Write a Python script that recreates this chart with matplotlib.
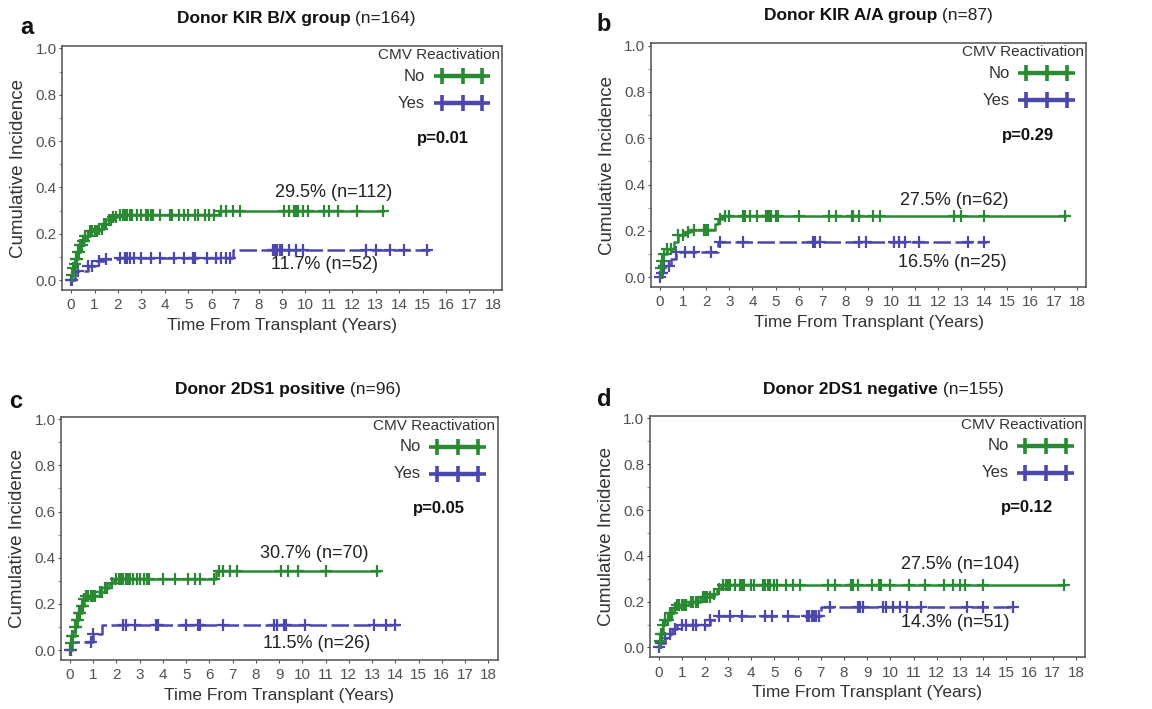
import numpy as np
import matplotlib
matplotlib.use('Agg')
import matplotlib.pyplot as plt

plt.rcParams['font.family'] = ['Liberation Sans', 'DejaVu Sans']

GREEN = '#2a8a34'
BLUE = '#4c47ad'
GREY = '#505050'

# ---- data ----
# panel a: Donor KIR B/X group
a_no_t = [0, 0.05, 0.1, 0.15, 0.2, 0.3, 0.4, 0.5, 0.6, 0.8, 1.2, 1.4, 1.6, 1.8, 1.95, 6.3]
a_no_y = [0, 0.02, 0.05, 0.07, 0.09, 0.12, 0.15, 0.17, 0.19, 0.21, 0.22, 0.24, 0.26, 0.27, 0.28, 0.30]
a_no_end = 13.3
a_no_cens = [0.05, 0.1, 0.15, 0.2, 0.25, 0.3, 0.35, 0.4, 0.45, 0.5, 0.55, 0.6, 0.7, 0.8, 0.9, 1.0, 1.1,
             1.2, 1.3, 1.4, 1.5, 1.6, 1.7, 1.8, 1.9, 2.1, 2.2, 2.3, 2.4, 2.5, 2.6, 2.8, 3.0, 3.2, 3.3, 3.4,
             3.5, 3.8, 4.2, 4.3, 4.6, 4.8, 5.0, 5.3, 5.4, 5.7, 5.9, 6.1, 6.4, 6.6, 6.9, 7.2, 9.1, 9.3,
             9.5, 9.6, 9.7, 9.9, 10.1, 10.8, 11.0, 11.4, 12.2, 13.3]
a_yes_t = [0, 0.15, 0.7, 1.0, 1.4, 2.0, 6.9]
a_yes_y = [0, 0.04, 0.06, 0.08, 0.09, 0.095, 0.13]
a_yes_end = 15.3
a_yes_cens = [0.0, 0.05, 0.3, 0.7, 0.9, 1.2, 1.5, 2.1, 2.3, 2.4, 2.5, 2.7, 3.0, 3.4, 3.8, 4.4, 4.8,
              5.2, 5.3, 5.8, 6.2, 6.4, 6.6, 6.8, 8.6, 8.7, 8.8, 8.9, 9.0, 9.3, 9.6, 9.9, 12.6, 13.0,
              13.6, 14.2, 15.2]

# panel b: Donor KIR A/A group
b_no_t = [0, 0.05, 0.1, 0.15, 0.3, 0.6, 0.8, 1.1, 1.3, 2.4, 2.5, 2.7]
b_no_y = [0, 0.04, 0.07, 0.10, 0.12, 0.15, 0.18, 0.195, 0.205, 0.23, 0.25, 0.264]
b_no_end = 17.5
b_no_cens = [0.05, 0.1, 0.2, 0.3, 0.5, 0.8, 1.0, 1.2, 1.5, 1.9, 2.0, 2.1, 2.6, 2.8, 3.0, 3.6, 3.7,
             3.9, 4.2, 4.6, 4.65, 4.7, 4.8, 5.0, 5.1, 6.0, 7.3, 7.6, 8.3, 8.35, 8.6, 9.2, 9.5, 12.7,
             13.0, 14.0, 17.5]
b_yes_t = [0, 0.1, 0.15, 0.5, 0.7, 2.5]
b_yes_y = [0, 0.02, 0.05, 0.08, 0.108, 0.152]
b_yes_end = 14.1
b_yes_cens = [0.0, 0.1, 0.2, 0.4, 0.7, 1.1, 1.5, 2.2, 2.6, 3.6, 6.6, 6.7, 6.9, 8.6, 8.9, 10.1,
              10.3, 10.6, 11.2, 13.3, 14.0]

# panel c: Donor 2DS1 positive
c_no_t = [0, 0.05, 0.1, 0.2, 0.3, 0.4, 0.5, 0.6, 0.7, 1.3, 1.5, 1.7, 1.9, 6.3]
c_no_y = [0, 0.03, 0.06, 0.10, 0.13, 0.16, 0.19, 0.22, 0.236, 0.25, 0.27, 0.29, 0.307, 0.343]
c_no_end = 13.3
c_no_cens = [0.05, 0.1, 0.15, 0.2, 0.25, 0.3, 0.35, 0.4, 0.45, 0.5, 0.55, 0.6, 0.7, 0.8, 0.9, 1.0,
             1.1, 1.3, 1.4, 1.5, 1.6, 1.8, 2.0, 2.1, 2.2, 2.3, 2.4, 2.5, 2.6, 2.7, 2.9, 3.0, 3.2, 3.3,
             3.4, 4.0, 4.5, 5.1, 5.4, 5.6, 6.2, 6.4, 6.6, 6.9, 7.2, 9.1, 9.4, 9.8, 11.0, 13.2]
c_yes_t = [0, 0.1, 1.0, 1.4]
c_yes_y = [0, 0.036, 0.07, 0.11]
c_yes_end = 14.1
c_yes_cens = [0.0, 0.05, 0.9, 1.0, 2.3, 2.4, 2.8, 3.7, 3.8, 5.0, 5.5, 5.6, 6.6, 8.8, 8.9, 9.2,
              9.3, 10.1, 13.1, 13.6, 14.0]

# panel d: Donor 2DS1 negative
d_no_t = [0, 0.05, 0.1, 0.2, 0.3, 0.5, 0.65, 0.8, 1.3, 1.8, 2.3, 2.5, 2.7]
d_no_y = [0, 0.03, 0.06, 0.10, 0.12, 0.15, 0.17, 0.185, 0.20, 0.22, 0.235, 0.255, 0.274]
d_no_end = 17.5
d_no_cens = [0.05, 0.1, 0.15, 0.2, 0.3, 0.4, 0.5, 0.6, 0.7, 0.8, 0.9, 1.0, 1.1, 1.2, 1.4, 1.5,
             1.6, 1.7, 1.9, 2.0, 2.1, 2.2, 2.4, 2.6, 2.8, 2.9, 3.0, 3.1, 3.3, 3.5, 3.6, 3.7, 4.0,
             4.1, 4.5, 4.6, 4.7, 4.8, 5.0, 5.1, 5.5, 5.8, 6.1, 7.3, 7.6, 8.3, 8.4, 8.6, 9.2, 9.5,
             9.6, 10.0, 10.8, 11.5, 12.3, 12.7, 13.0, 13.2, 14.0, 17.5]
d_yes_t = [0, 0.05, 0.3, 0.5, 0.6, 0.8, 2.2, 2.5, 7.0]
d_yes_y = [0, 0.02, 0.04, 0.06, 0.08, 0.098, 0.12, 0.139, 0.175]
d_yes_end = 15.3
d_yes_cens = [0.0, 0.1, 0.3, 0.5, 0.7, 1.0, 1.2, 1.5, 1.6, 2.0, 2.2, 2.6, 3.1, 3.6, 4.6, 4.9, 5.6,
              6.4, 6.5, 6.6, 6.7, 6.8, 6.9, 7.4, 8.6, 8.7, 8.8, 9.7, 9.8, 10.1, 10.4, 10.7, 11.3,
              13.3, 14.0, 15.3]

titles = ['Donor KIR B/X group', 'Donor KIR A/A group', 'Donor 2DS1 positive', 'Donor 2DS1 negative']
title_n = [' (n=164)', ' (n=87)', ' (n=96)', ' (n=155)']
letters = ['a', 'b', 'c', 'd']
pvals = ['p=0.01', 'p=0.29', 'p=0.05', 'p=0.12']
no_labels = ['29.5% (n=112)', '27.5% (n=62)', '30.7% (n=70)', '27.5% (n=104)']
yes_labels = ['11.7% (n=52)', '16.5% (n=25)', '11.5% (n=26)', '14.3% (n=51)']
no_label_xy = [(11.2, 0.38), (12.7, 0.33), (10.5, 0.42), (13.0, 0.36)]
yes_label_xy = [(10.8, 0.065), (12.6, 0.065), (10.6, 0.03), (12.8, 0.11)]

panels = [
    (a_no_t, a_no_y, a_no_end, a_no_cens, a_yes_t, a_yes_y, a_yes_end, a_yes_cens),
    (b_no_t, b_no_y, b_no_end, b_no_cens, b_yes_t, b_yes_y, b_yes_end, b_yes_cens),
    (c_no_t, c_no_y, c_no_end, c_no_cens, c_yes_t, c_yes_y, c_yes_end, c_yes_cens),
    (d_no_t, d_no_y, d_no_end, d_no_cens, d_yes_t, d_yes_y, d_yes_end, d_yes_cens),
]

# axes boxes in figure fractions [left, bottom, width, height]
boxes = [[0.054, 0.591, 0.382, 0.344],
         [0.565, 0.595, 0.378, 0.344],
         [0.053, 0.069, 0.379, 0.343],
         [0.564, 0.073, 0.378, 0.340]]
letter_pos = [(-0.095, 1.078), (-0.124, 1.078), (-0.12, 1.062), (-0.122, 1.07)]


def step_value(t, y, x):
    t = np.asarray(t)
    y = np.asarray(y)
    idx = np.searchsorted(t, x, side='right') - 1
    return y[np.clip(idx, 0, len(y) - 1)]


def draw_curve(ax, t, y, end, cens, color, dashed):
    xs = np.r_[t, end]
    ys = np.r_[y, y[-1]]
    line, = ax.step(xs, ys, where='post', color=color, lw=1.8)
    if dashed:
        line.set_dashes((7, 1.8))
    cy = step_value(t, y, np.asarray(cens))
    ax.plot(cens, cy, ls='none', marker='+', ms=9, mew=1.6, color=color)


fig = plt.figure(figsize=(11.52, 7.09), dpi=100)

for i, box in enumerate(boxes):
    ax = fig.add_axes(box)
    nt, ny, nend, ncens, yt, yy, yend, ycens = panels[i]
    draw_curve(ax, yt, yy, yend, ycens, BLUE, True)
    draw_curve(ax, nt, ny, nend, ncens, GREEN, False)

    ax.set_xlim(-0.38, 18.4)
    ax.set_ylim(-0.043, 1.01)
    ax.set_xticks(np.arange(0, 19, 1))
    ax.set_yticks(np.arange(0, 1.01, 0.2))
    ax.set_yticks(np.arange(0, 1.01, 0.1), minor=True)
    ax.set_yticklabels(['%.1f' % v for v in np.arange(0, 1.01, 0.2)])
    ax.tick_params(axis='both', colors=GREY, labelsize=11, length=2.5, width=0.8)
    ax.tick_params(axis='y', pad=1.5)
    ax.tick_params(axis='y', which='minor', length=2, width=0.8, colors='#999999')
    for sp in ax.spines.values():
        sp.set_color(GREY)
        sp.set_linewidth(1.1)
    ax.set_xlabel('Time From Transplant (Years)', fontsize=12.5, color='#333333', labelpad=4)
    ax.set_ylabel('Cumulative Incidence', fontsize=13.5, color='#333333', labelpad=6)

    # legend drawn by hand
    ax.text(0.995, 0.963, 'CMV Reactivation', transform=ax.transAxes, ha='right', va='center',
            fontsize=11, color='#333333', clip_on=False)
    ax.text(0.825, 0.877, 'No', transform=ax.transAxes, ha='right', va='center',
            fontsize=12, color='#333333')
    ax.text(0.825, 0.766, 'Yes', transform=ax.transAxes, ha='right', va='center',
            fontsize=12, color='#333333')
    for yy_leg, col in [(0.877, GREEN), (0.766, BLUE)]:
        ax.plot([0.862, 0.91, 0.955], [yy_leg] * 3, transform=ax.transAxes, color=col, lw=3.2,
                marker='+', ms=11, mew=2.6, clip_on=False)
    ax.text(0.866, 0.623, pvals[i], transform=ax.transAxes, ha='center', va='center',
            fontsize=12, fontweight='bold', color='#111111')

    ax.text(no_label_xy[i][0], no_label_xy[i][1], no_labels[i], ha='center', va='center',
            fontsize=13, color='#222222')
    ax.text(yes_label_xy[i][0], yes_label_xy[i][1], yes_labels[i], ha='center', va='center',
            fontsize=13, color='#222222')

    # title: bold part + normal part
    t1 = ax.text(0.26, 1.112, titles[i], transform=ax.transAxes, ha='left', va='center',
                 fontsize=12.5, fontweight='bold', color='#111111')
    ax.annotate(title_n[i], xy=(1, 0.5), xycoords=t1, ha='left', va='center',
                fontsize=12.5, color='#222222')
    ax.text(letter_pos[i][0], letter_pos[i][1], letters[i], transform=ax.transAxes,
            ha='left', va='center', fontsize=17, fontweight='bold', color='#111111')

fig.savefig('out.png', dpi=100)
